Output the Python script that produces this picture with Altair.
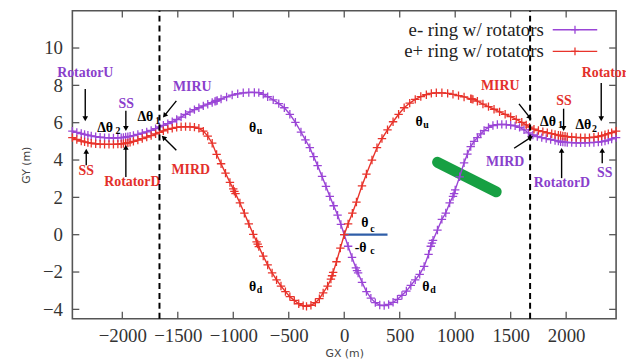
import math
import altair as alt
import pandas as pd

# ---------------- data ----------------
e_minus_x = [-2450, -2410, -2370, -2340, -2310, -2280, -2240, -2200, -2160, -2120, -2080, -2040, -2010, -1990,
             -1970, -1950, -1930, -1900, -1860, -1820, -1780, -1740, -1700, -1665, -1630, -1590, -1550, -1510,
             -1470, -1430, -1390, -1350, -1310, -1270, -1230, -1190, -1165, -1155, -1145, -1110, -1060, -1010,
             -960, -910, -860, -810, -770, -730, -690, -640, -590, -540, -490, -440, -390, -350, -310, -275,
             -240, -200, -165, -130, -95, -60, -30, 0, 35, 70, 105, 115, 125, 160, 200, 240, 280, 320, 360,
             400, 440, 480, 520, 560, 600, 640, 680, 720, 760, 780, 790, 800, 840, 880, 915, 950, 980, 990,
             1000, 1040, 1080, 1110, 1140, 1170, 1200, 1230, 1260, 1300, 1340, 1380, 1420, 1460, 1500, 1540,
             1580, 1620, 1660, 1700, 1740, 1780, 1820, 1860, 1900, 1930, 1950, 1970, 1990, 2010, 2050, 2090,
             2130, 2170, 2210, 2250, 2290, 2320, 2350, 2380, 2410, 2450]
e_minus_y = [5.55, 5.48, 5.42, 5.37, 5.33, 5.29, 5.25, 5.22, 5.20, 5.19, 5.18, 5.19, 5.20, 5.21,
             5.23, 5.25, 5.27, 5.31, 5.37, 5.44, 5.51, 5.59, 5.68, 5.78, 5.86, 5.95, 6.05, 6.17,
             6.30, 6.45, 6.58, 6.70, 6.80, 6.90, 6.99, 7.08, 7.14, 7.16, 7.19, 7.27, 7.38, 7.48,
             7.55, 7.60, 7.62, 7.62, 7.61, 7.52, 7.39, 7.22, 7.02, 6.80, 6.45, 6.02, 5.50, 5.08, 4.66, 4.18,
             3.70, 3.12, 2.59, 2.05, 1.55, 1.05, 0.55, 0.0, -0.62, -1.22, -1.78, -1.92, -2.05, -2.55, -3.05,
             -3.40, -3.64, -3.77, -3.80, -3.74, -3.62, -3.46, -3.25, -3.02, -2.72, -2.42, -2.12, -1.70, -1.05,
             -0.62, -0.45, -0.30, 0.25, 0.82, 1.16, 1.70, 2.05, 2.20, 2.40, 3.10, 3.85, 4.32, 4.72, 5.00, 5.20,
             5.40, 5.58, 5.75, 5.85, 5.90, 5.91, 5.90, 5.87, 5.83, 5.75, 5.62, 5.45, 5.34, 5.26, 5.20, 5.15,
             5.10, 5.05, 5.01, 4.98, 4.96, 4.95, 4.94, 4.93, 4.92, 4.92, 4.92, 4.93, 4.94, 4.96, 4.99, 5.02,
             5.07, 5.13, 5.20]

e_plus_x = [-2450, -2410, -2370, -2340, -2310, -2280, -2240, -2200, -2160, -2120, -2080, -2040, -2010, -1990,
            -1970, -1950, -1930, -1900, -1860, -1820, -1780, -1740, -1700, -1665, -1630, -1590, -1550, -1510,
            -1470, -1430, -1390, -1350, -1310, -1270, -1230, -1190, -1150, -1110, -1070, -1030, -1000, -990,
            -980, -940, -900, -860, -820, -790, -780, -770, -730, -690, -650, -610, -570, -530, -490, -450,
            -410, -370, -340, -300, -260, -224, -190, -150, -120, -110, -100, -70, -35, 0, 35, 73, 110, 160,
            200, 250, 295, 340, 390, 440, 490, 540, 590, 640, 690, 740, 785, 830, 880, 932, 980, 1030, 1080,
            1140, 1150, 1160, 1200, 1250, 1300, 1350, 1400, 1450, 1500, 1550, 1600, 1640, 1670, 1710, 1750,
            1790, 1830, 1870, 1900, 1930, 1950, 1970, 1990, 2010, 2050, 2090, 2130, 2170, 2210, 2250, 2290,
            2320, 2350, 2380, 2410, 2450]
e_plus_y = [5.20, 5.10, 5.02, 4.97, 4.93, 4.90, 4.87, 4.85, 4.84, 4.84, 4.84, 4.85, 4.86, 4.88,
            4.90, 4.92, 4.95, 5.00, 5.07, 5.15, 5.23, 5.31, 5.40, 5.48, 5.56, 5.64, 5.70, 5.75,
            5.78, 5.79, 5.78, 5.76, 5.70, 5.55, 5.28, 4.90, 4.30, 3.80, 3.30, 2.80, 2.45, 2.32,
            2.20, 1.70, 1.15, 0.58, 0.02, -0.38, -0.50, -0.64, -1.15, -1.62, -2.05, -2.42, -2.75, -3.05,
            -3.32, -3.52, -3.70, -3.80, -3.84, -3.78, -3.64, -3.43, -3.12, -2.75, -2.38, -2.20, -2.02, -1.45,
            -0.72, 0.0, 0.58, 1.15, 1.75, 2.62, 3.25, 4.00, 4.66, 5.15, 5.62, 6.05, 6.45, 6.80, 7.05, 7.25,
            7.40, 7.50, 7.57, 7.60, 7.60, 7.57, 7.52, 7.45, 7.38, 7.28, 7.27, 7.25, 7.15, 7.00, 6.86, 6.72,
            6.58, 6.45, 6.32, 6.18, 6.02, 5.88, 5.76, 5.65, 5.58, 5.52, 5.46, 5.41, 5.37, 5.33, 5.31, 5.29,
            5.27, 5.25, 5.23, 5.21, 5.20, 5.19, 5.20, 5.22, 5.26, 5.30, 5.35, 5.41, 5.47, 5.55]

series_names = ["e- ring w/ rotators", "e+ ring w/ rotators"]

x_ticks = [-2000, -1500, -1000, -500, 0, 500, 1000, 1500, 2000]
y_ticks = [-4, -2, 0, 2, 4, 6, 8, 10]
x_domain = [-2450, 2450]
y_domain = [-4.5, 12]

dashed_x = [-1665, 1675]

# coloured labels
label_text = ["RotatorU", "SS", "MIRU", "SS", "RotatorD", "MIRD",
              "MIRU", "SS", "MIRD", "RotatorD", "SS"]
label_x = [-2334, -1964, -1370, -2325, -1910, -1383,
           1406, 1981, 1450, 1962, 2347]
label_y = [8.68, 7.0, 7.92, 3.41, 2.84, 3.46,
           7.97, 7.17, 3.90, 2.75, 3.28]
label_series = [0, 0, 0, 1, 1, 1, 1, 1, 0, 0, 0]
# label cut by the right edge (left aligned)
edge_label_text = ["RotatorU"]
edge_label_x = [2140]
edge_label_y = [8.67]
edge_label_series = [1]

# angle labels (main glyphs and subscripts)
ang_text = ["θ", "θ", "θ", "θ", "θ", "-θ", "Δθ", "Δθ", "Δθ", "Δθ"]
ang_x = [-826, 674, -826, 736, 186, 147, -2155, -1792, 1837, 2155]
ang_y = [5.74, 6.06, -2.80, -2.80, 0.63, -0.69, 5.70, 6.29, 6.02, 5.85]
sub_text = ["u", "u", "d", "d", "c", "c", "2", "1", "1", "2"]
sub_x = [-763, 736, -763, 799, 254, 254, -2039, -1680, 1948, 2254]
sub_y = [5.58, 5.90, -2.96, -2.96, 0.33, -0.88, 5.54, 6.11, 5.85, 5.67]

# arrows: start -> end (head at end)
arrow_x1 = [-2334, -1968, -1513, -2325, -1968, -1513, 1575, 1977, 2316, 1531, 1959, 2325]
arrow_y1 = [7.81, 6.64, 7.17, 3.72, 3.09, 4.52, 7.01, 6.75, 8.12, 4.63, 3.03, 3.83]
arrow_x2 = [-2334, -1968, -1620, -2325, -1968, -1629, 1673, 1977, 2316, 1682, 1959, 2325]
arrow_y2 = [6.21, 5.69, 6.38, 4.47, 4.68, 5.21, 6.27, 5.69, 6.21, 5.21, 4.52, 4.52]

# green element and blue crossing-angle line
green_x = [841, 1370]
green_y = [3.88, 2.30]
blue_x = [0, 390]
blue_y = [0, 0]

# legend placement (data coordinates)
legend_text_x = 1798
legend_y = [10.98, 9.82]
legend_line_x = [1879, 2280]

# ---------------- styling ----------------
W, H = 549, 311
PURPLE = "#9a45d6"
RED = "#e8332b"
LABEL_COLORS = ["#8a3fcc", "#e3302b"]
LINE_COLORS = [PURPLE, RED]
CROSS = "M-1,0L1,0M0,-1L0,1"
SERIF = "Liberation Serif"

xscale = alt.Scale(domain=x_domain, nice=False, zero=False)
yscale = alt.Scale(domain=y_domain, nice=False, zero=False)
xaxis = alt.Axis(values=x_ticks, format="d", ticks=False, tickSize=0, domain=False, grid=False,
                 labelFont=SERIF, labelFontSize=19, labelColor="#333333", labelPadding=8,
                 titleFont="DejaVu Sans", titleFontSize=11, titleFontWeight="normal",
                 titleColor="#444444", titlePadding=2)
yaxis = alt.Axis(values=y_ticks, format="d", ticks=False, tickSize=0, domain=False, grid=False,
                 labelFont=SERIF, labelFontSize=19, labelColor="#333333", labelPadding=10,
                 titleFont="DejaVu Sans", titleFontSize=11, titleFontWeight="normal",
                 titleColor="#444444", titlePadding=11)


def X(f):
    return alt.X(f, type="quantitative", scale=xscale, axis=xaxis, title="GX (m)")


def Y(f):
    return alt.Y(f, type="quantitative", scale=yscale, axis=yaxis, title="GY (m)")


def X2(f):
    return alt.X2(f)


def Y2(f):
    return alt.Y2(f)


# ---------------- tables ----------------
curves = pd.concat([
    pd.DataFrame({"x": e_minus_x, "y": e_minus_y, "s": series_names[0], "c": LINE_COLORS[0], "o": range(len(e_minus_x))}),
    pd.DataFrame({"x": e_plus_x, "y": e_plus_y, "s": series_names[1], "c": LINE_COLORS[1], "o": range(len(e_plus_x))}),
])

layers = []

# blue line
blue_df = pd.DataFrame({"x": [blue_x[0]], "x2": [blue_x[1]], "y": [blue_y[0]], "y2": [blue_y[1]]})
layers.append(alt.Chart(blue_df).mark_rule(color="#2f5ea8", strokeWidth=2.2).encode(
    x=X("x"), x2=X2("x2"), y=Y("y"), y2=Y2("y2")))

# green bar
green_df = pd.DataFrame({"x": [green_x[0]], "x2": [green_x[1]], "y": [green_y[0]], "y2": [green_y[1]]})
layers.append(alt.Chart(green_df).mark_rule(color="#17a043", strokeWidth=11, strokeCap="round").encode(
    x=X("x"), x2=X2("x2"), y=Y("y"), y2=Y2("y2")))

# curves
for i, name in enumerate(series_names):
    d = curves[curves["s"] == name]
    layers.append(alt.Chart(d).mark_line(color=LINE_COLORS[i], strokeWidth=1.4).encode(
        x=X("x"), y=Y("y"), order="o:Q"))
    layers.append(alt.Chart(d).mark_point(shape=CROSS, filled=False, size=72, strokeWidth=1.3,
                                          color=LINE_COLORS[i], opacity=1).encode(x=X("x"), y=Y("y")))

# dashed vertical lines
dash_df = pd.DataFrame({"x": dashed_x, "y": [y_domain[0]] * 2, "y2": [y_domain[1]] * 2})

# arrows
sx = W / (x_domain[1] - x_domain[0])
sy = H / (y_domain[1] - y_domain[0])
angles = []
for a, b, c, d in zip(arrow_x1, arrow_y1, arrow_x2, arrow_y2):
    dx = (c - a) * sx
    dy = -(d - b) * sy
    angles.append(math.degrees(math.atan2(dx, -dy)) % 360)
arrow_df = pd.DataFrame({"x": arrow_x1, "y": arrow_y1, "x2": arrow_x2, "y2": arrow_y2, "a": angles})
layers.append(alt.Chart(arrow_df).mark_rule(color="black", strokeWidth=1.4).encode(
    x=X("x"), y=Y("y"), x2=X2("x2"), y2=Y2("y2")))
layers.append(alt.Chart(arrow_df).mark_point(shape="triangle-up", filled=True, size=32, color="black",
                                             opacity=1).encode(
    x=X("x2"), y=Y("y2"), angle=alt.Angle("a:Q", scale=None)))

# coloured labels
lab_df = pd.DataFrame({"t": label_text, "x": label_x, "y": label_y,
                       "c": [LABEL_COLORS[s] for s in label_series]})
layers.append(alt.Chart(lab_df).mark_text(font=SERIF, fontWeight="bold", fontSize=14, baseline="middle").encode(
    x=X("x"), y=Y("y"), text="t:N", color=alt.Color("c:N", scale=None)))
edge_df = pd.DataFrame({"t": edge_label_text, "x": edge_label_x, "y": edge_label_y,
                        "c": [LABEL_COLORS[s] for s in edge_label_series]})
layers.append(alt.Chart(edge_df).mark_text(font=SERIF, fontWeight="bold", fontSize=14, baseline="middle",
                                           align="left").encode(
    x=X("x"), y=Y("y"), text="t:N", color=alt.Color("c:N", scale=None)))

# angle labels
ang_df = pd.DataFrame({"t": ang_text, "x": ang_x, "y": ang_y})
layers.append(alt.Chart(ang_df).mark_text(font=SERIF, fontWeight="bold", fontSize=14, baseline="middle",
                                          color="black").encode(x=X("x"), y=Y("y"), text="t:N"))
sub_df = pd.DataFrame({"t": sub_text, "x": sub_x, "y": sub_y})
layers.append(alt.Chart(sub_df).mark_text(font=SERIF, fontWeight="bold", fontSize=10, baseline="middle",
                                          color="black").encode(x=X("x"), y=Y("y"), text="t:N"))

# legend (manual, label left of sample)
leg_df = pd.DataFrame({"t": series_names, "x": [legend_text_x] * 2, "y": legend_y,
                       "x1": [legend_line_x[0]] * 2, "x2": [legend_line_x[1]] * 2,
                       "xm": [(legend_line_x[0] + legend_line_x[1]) / 2] * 2, "c": LINE_COLORS})
layers.append(alt.Chart(leg_df).mark_text(font=SERIF, fontSize=19, align="right", baseline="middle",
                                          color="#222222").encode(x=X("x"), y=Y("y"), text="t:N"))
layers.append(alt.Chart(leg_df).mark_rule(strokeWidth=1.4).encode(
    x=X("x1"), x2=X2("x2"), y=Y("y"), color=alt.Color("c:N", scale=None)))
layers.append(alt.Chart(leg_df).mark_point(shape=CROSS, filled=False, size=64, strokeWidth=1.3, opacity=1).encode(
    x=X("xm"), y=Y("y"), color=alt.Color("c:N", scale=None)))

# dashed lines on top (they cross the legend text as in the reference)
layers.append(alt.Chart(dash_df).mark_rule(color="black", strokeWidth=2, strokeDash=[6, 4]).encode(
    x=X("x"), y=Y("y"), y2=Y2("y2")))

# inward ticks (mirrored on all four sides)
TL = 7
xt_df = pd.DataFrame({"v": x_ticks})
yt_df = pd.DataFrame({"v": y_ticks})
tick_style = dict(color="#555555", strokeWidth=1.3)
layers.append(alt.Chart(xt_df).mark_rule(**tick_style).encode(x=X("v"), y=alt.value(H), y2=alt.value(H - TL)))
layers.append(alt.Chart(xt_df).mark_rule(**tick_style).encode(x=X("v"), y=alt.value(0), y2=alt.value(TL)))
layers.append(alt.Chart(yt_df).mark_rule(**tick_style).encode(y=Y("v"), x=alt.value(0), x2=alt.value(TL)))
layers.append(alt.Chart(yt_df).mark_rule(**tick_style).encode(y=Y("v"), x=alt.value(W), x2=alt.value(W - TL)))

chart = alt.layer(*layers).properties(
    width=W, height=H,
    autosize=alt.AutoSizeParams(type="none"),
    padding={"left": 65, "top": 1, "right": 10, "bottom": 41},
    background="white",
).configure_view(stroke="#555555", strokeWidth=1.6)

chart.save("out.html", embed_options={"renderer": "svg", "actions": False})
